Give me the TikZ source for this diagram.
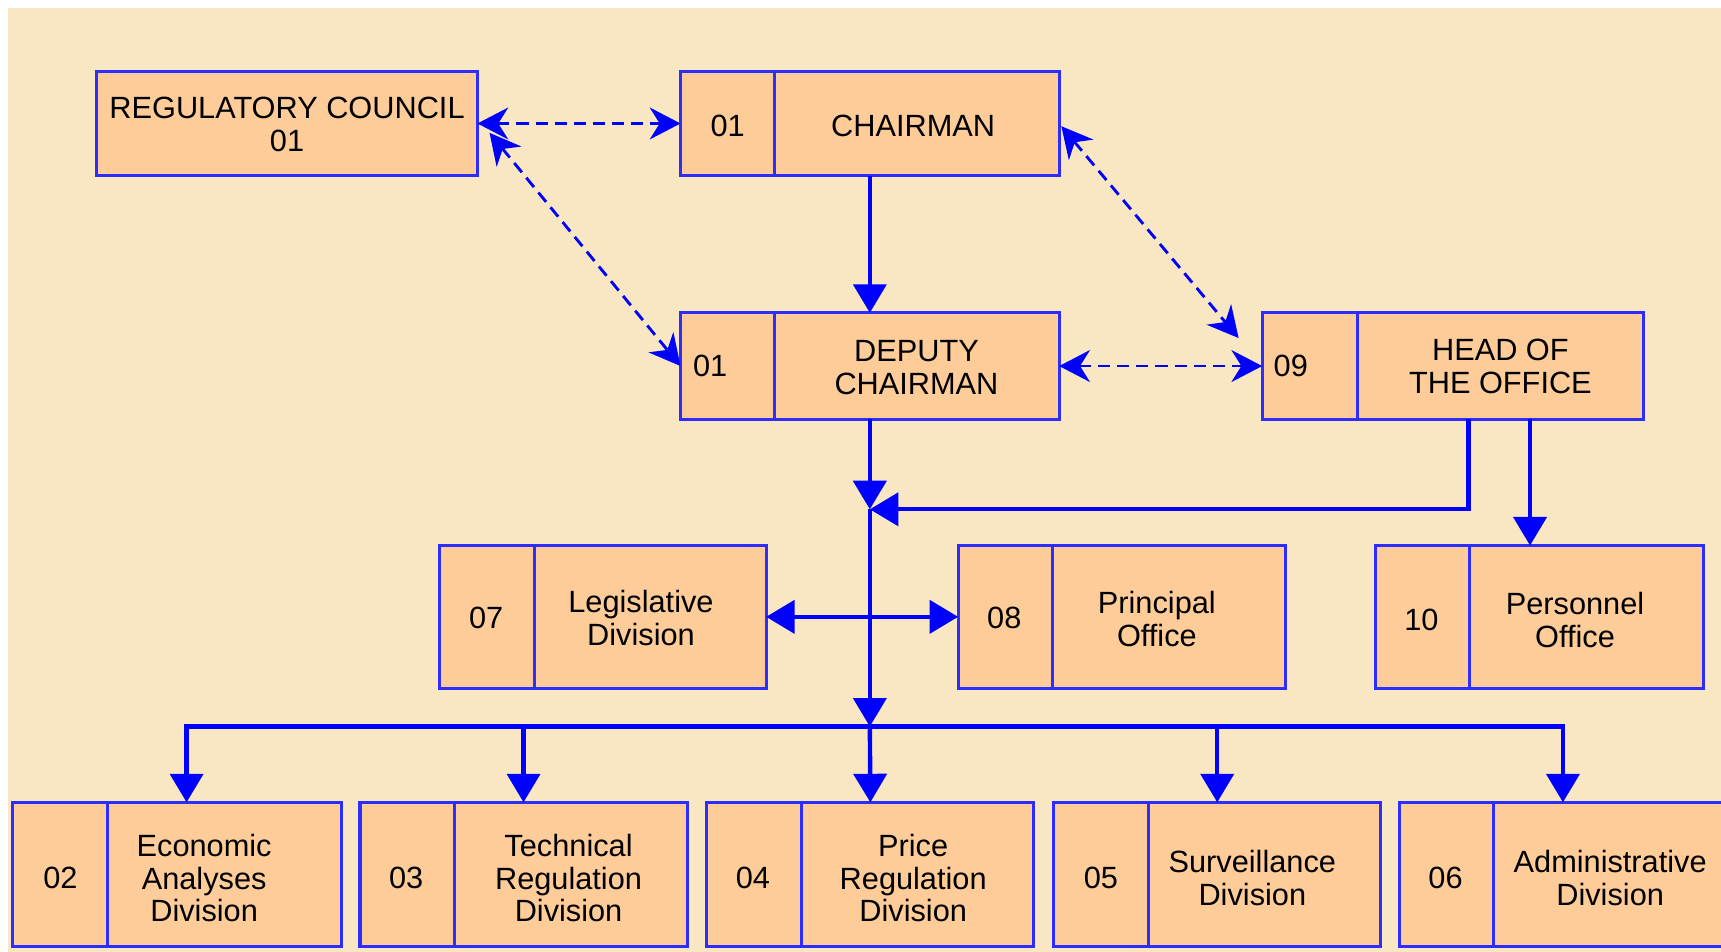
\documentclass[tikz,border=0pt]{standalone}
\usepackage{fontspec}
\setmainfont{Liberation Sans}
\usetikzlibrary{arrows.meta}
\definecolor{bgc}{RGB}{249,231,196}
\definecolor{fillc}{RGB}{253,204,153}
\definecolor{linec}{RGB}{0,0,255}
\definecolor{edgec}{RGB}{45,45,255}
\begin{document}
\begin{tikzpicture}[x=0.5pt,y=-0.5pt,
  box/.style={draw=edgec, fill=fillc, line width=1.4pt, inner sep=0pt, outer sep=0pt},
  divl/.style={draw=edgec, line width=1.4pt},
  txt/.style={font=\fontsize{14}{15}\selectfont, align=center, inner sep=0pt, text=black},
  link/.style={draw=linec, line width=2pt, -{Triangle[length=13pt,width=15pt]}},
  twolink/.style={draw=linec, line width=2pt, {Triangle[length=13pt,width=15pt]}-{Triangle[length=13pt,width=15pt]}},
  plainlink/.style={draw=linec, line width=2pt, line cap=rect},
  dlink/.style={draw=linec, line width=1.3pt, dash pattern=on 5.5pt off 3.2pt, {Stealth[length=14pt,width=14.5pt,inset=4.5pt]}-{Stealth[length=14pt,width=14.5pt,inset=4.5pt]}},
]
\useasboundingbox (0,0) rectangle (1568,867);
\fill[bgc] (7,7) rectangle (1568,867);

% boxes
\node[box, minimum width=173.5pt, minimum height=47.5pt] (rc) at (261.5,112.5) {};
\node[box, minimum width=172.5pt, minimum height=47.5pt] (ch) at (792.5,112.5) {};
\node[box, minimum width=172.5pt, minimum height=48.5pt] (dc) at (792.5,333.5) {};
\node[box, minimum width=173.5pt, minimum height=48.5pt] (ho) at (1323.5,333.5) {};
\node[box, minimum width=149pt, minimum height=65pt] (lg) at (549,562) {};
\node[box, minimum width=149pt, minimum height=65pt] (po) at (1022,562) {};
\node[box, minimum width=149.5pt, minimum height=65pt] (pe) at (1402.5,562) {};
\node[box, minimum width=150pt, minimum height=65.5pt] (b2) at (161,796.5) {};
\node[box, minimum width=149pt, minimum height=65.5pt] (b3) at (477,796.5) {};
\node[box, minimum width=149pt, minimum height=65.5pt] (b4) at (793,796.5) {};
\node[box, minimum width=149pt, minimum height=65.5pt] (b5) at (1109,796.5) {};
\node[box, minimum width=149pt, minimum height=65.5pt] (b6) at (1424,796.5) {};

% dividers
\draw[divl] (706,65) -- (706,160);
\draw[divl] (706,285) -- (706,382);
\draw[divl] (1237,285) -- (1237,382);
\draw[divl] (487,497) -- (487,627);
\draw[divl] (959,497) -- (959,627);
\draw[divl] (1339,497) -- (1339,627);
\draw[divl] (98,731) -- (98,862);
\draw[divl] (414,731) -- (414,862);
\draw[divl] (730,731) -- (730,862);
\draw[divl] (1046,731) -- (1046,862);
\draw[divl] (1361,731) -- (1361,862);

% texts
\node[txt] (rct) at (261.5,113) {REGULATORY COUNCIL\\01};
\node[txt] (chn) at (663,115) {01};
\node[txt] (cht) at (832,115) {CHAIRMAN};
\node[txt] (dcn) at (647,333) {01};
\node[txt] (dct) at (835,335) {DEPUTY\\CHAIRMAN};
\node[txt] (hon) at (1176,333) {09};
\node[txt] (hot) at (1367,334) {HEAD OF\\THE OFFICE};
\node[txt] (lgn) at (443,563) {07};
\node[txt] (lgt) at (584,563) {Legislative\\Division};
\node[txt] (pon) at (915,563) {08};
\node[txt] (pot) at (1054,564) {Principal\\Office};
\node[txt] (pen) at (1295,565) {10};
\node[txt] (pet) at (1435,565) {Personnel\\Office};
\node[txt] (b2n) at (55,800) {02};
\node[txt] (b2t) at (186,800) {Economic\\Analyses\\Division};
\node[txt] (b3n) at (370,800) {03};
\node[txt] (b3t) at (518,800) {Technical\\Regulation\\Division};
\node[txt] (b4n) at (686,800) {04};
\node[txt] (b4t) at (832,800) {Price\\Regulation\\Division};
\node[txt] (b5n) at (1003,800) {05};
\node[txt] (b5t) at (1141,800) {Surveillance\\Division};
\node[txt] (b6n) at (1317,800) {06};
\node[txt] (b6t) at (1467,800) {Administrative\\Division};

% junction coordinates
\coordinate (j1) at (792.5,464);
\coordinate (bus) at (792.5,662);
\coordinate (busL) at (170,662);
\coordinate (busR) at (1424,662);

% dashed links
\draw[dlink] (rc.east) -- (ch.west);
\draw[dlink] ([shift={(11,8.5)}]rc.east) -- (dc.west);
\draw[dlink] ([shift={(2,2.5)}]ch.east) -- ([shift={(-21.5,23)}]ho.north west);
\draw[dlink] (dc.east) -- (ho.west);

% solid links
\draw[link] (ch.south) -- (dc.north);
\draw[link] (dc.south) -- (j1);
\draw[link] ([xshift=7.25pt]ho.south) |- (j1);
\draw[link] ([xshift=35.25pt]ho.south) -- ([xshift=35.25pt]ho.south |- pe.north);
\draw[twolink] (lg.east) -- (po.west);
\draw[link] (j1) -- (bus);
\draw[plainlink] (busL) -- (busR);
\draw[link] (bus) -- (b4.north);
\draw[link] (busL) -- (busL |- b2.north);
\draw[link] (bus -| b3.north) -- (b3.north);
\draw[link] (bus -| b5.north) -- (b5.north);
\draw[link] (busR) -- (b6.north);
\end{tikzpicture}
\end{document}
